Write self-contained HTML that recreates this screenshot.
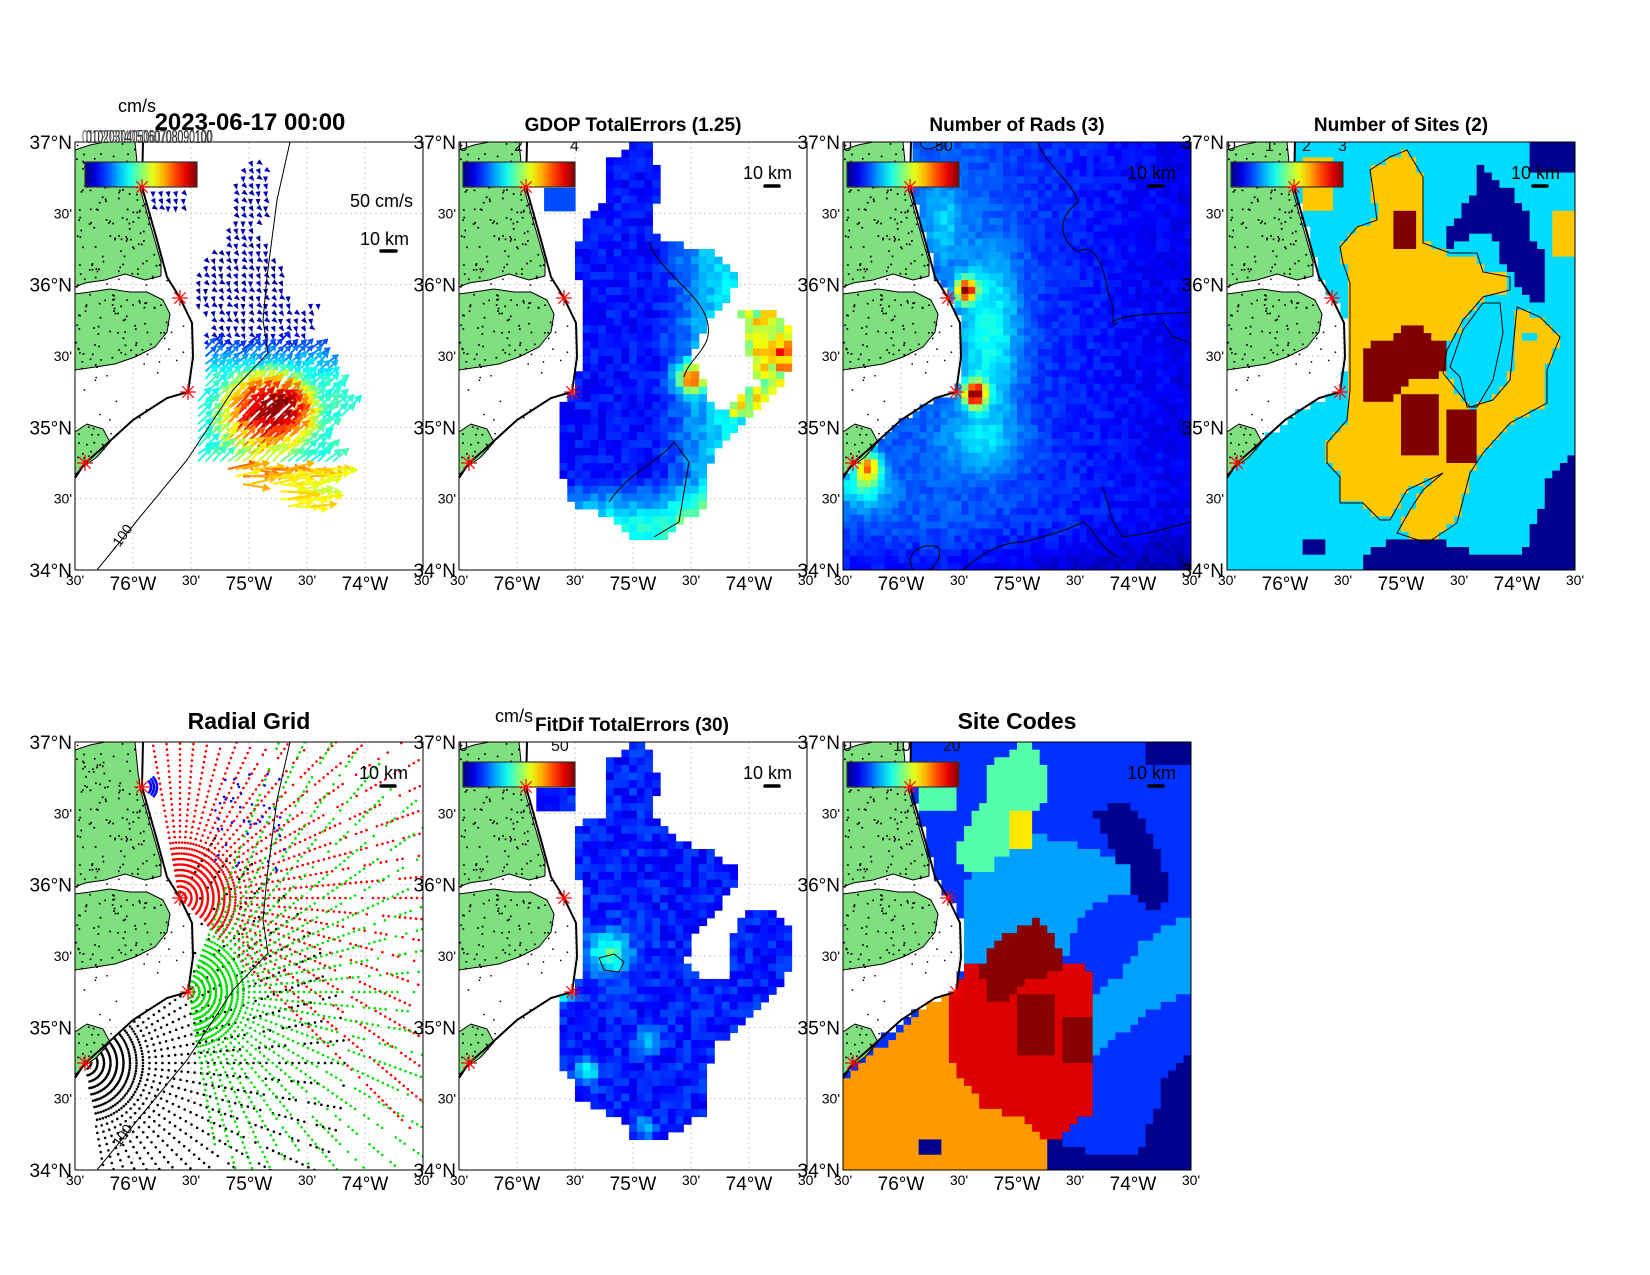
<!DOCTYPE html>
<html><head><meta charset="utf-8"><style>
html,body{margin:0;padding:0;background:#fff;}
#c{width:1650px;height:1275px;overflow:hidden;}
text{font-family:"Liberation Sans",Arial,sans-serif;}
</style></head><body><div id="c"></div>
<script>
const W=348,H=428;
function hash(i,j,k){let h=Math.sin(i*127.1+j*311.7+k*74.7)*43758.5453;return h-Math.floor(h);}
function cl(v){return Math.max(0,Math.min(1,v));}
function jet(t){t=cl(t);const f=v=>Math.round(255*cl(v));return `rgb(${f(1.5-Math.abs(4*t-3))},${f(1.5-Math.abs(4*t-2))},${f(1.5-Math.abs(4*t-1))})`;}
function g(x,y,cx,cy,r,r2){r2=r2||r;const d=((x-cx)/r)**2+((y-cy)/r2)**2;return Math.exp(-d);}
function pip(x,y,p){let c=false;for(let i=0,j=p.length-1;i<p.length;j=i++){const xi=p[i][0],yi=p[i][1],xj=p[j][0],yj=p[j][1];if(((yi>y)!=(yj>y))&&(x<(xj-xi)*(y-yi)/(yj-yi)+xi))c=!c;}return c;}
const C=[[68,0],[67,45],[82,98],[92,135],[105,156],[117,181],[118,215],[113,250],[92,256],[58,278],[25,308],[10,321],[0,336]];
function ocean(x,y){
 if(y<=250){for(let i=0;i<7;i++){const a=C[i],b=C[i+1];if(y>=a[1]&&y<=b[1]){const xc=a[0]+(b[0]-a[0])*(y-a[1])/(b[1]-a[1]);return x>xc+1;}}return true;}
 if(x>=113)return true;
 for(let i=7;i<12;i++){const a=C[i],b=C[i+1];if(x<=a[0]&&x>=b[0]){const yc=a[1]+(b[1]-a[1])*(x-a[0])/(b[0]-a[0]);return y>yc+1;}}
 return y>336;}
const LAND=[
[[0,8],[15,3],[30,0],[60,0],[63,30],[66,50],[76,85],[86,120],[86,134],[70,138],[50,132],[30,138],[10,141],[0,145]],
[[0,152],[15,150],[35,147],[55,150],[72,150],[88,158],[95,172],[92,190],[80,205],[60,215],[40,222],[20,225],[0,228]],
[[0,290],[12,282],[28,287],[35,300],[22,315],[8,325],[0,333]]];
const SITES=[[67,45],[105,156],[113,250],[10,321]];
function heat(nx,ny,fn){let s='';const cw=W/nx,ch=H/ny;for(let j=0;j<ny;j++)for(let i=0;i<nx;i++){const x=(i+.5)*cw,y=(j+.5)*ch;const c=fn(x,y,i,j);if(c)s+=`<rect x="${(i*cw).toFixed(2)}" y="${(j*ch).toFixed(2)}" width="${(cw+.6).toFixed(2)}" height="${(ch+.6).toFixed(2)}" fill="${c}"/>`;}return s;}
function poly(p){return p.map(q=>q.join(',')).join(' ');}
function grid(){let s='';for(let k=1;k<6;k++)s+=`<line x1="${k*58}" y1="0" x2="${k*58}" y2="${H}" stroke="#c8c8c8" stroke-width="0.9" stroke-dasharray="2,3"/>`;for(let k=1;k<6;k++){const y=(k*H/6).toFixed(1);s+=`<line x1="0" y1="${y}" x2="${W}" y2="${y}" stroke="#c8c8c8" stroke-width="0.9" stroke-dasharray="2,3"/>`;}return s;}
function land(){let s='';LAND.forEach(p=>s+=`<polygon points="${poly(p)}" fill="#80e080" stroke="#000" stroke-width="1"/>`);
 for(let i=0;i<1400;i++){const x=hash(i,1,3)*125,y=hash(i,2,5)*336;let inL=LAND.some(p=>pip(x,y,p));if(inL){if(hash(i,7,7)<0.4)s+=`<rect x="${x.toFixed(1)}" y="${y.toFixed(1)}" width="1.7" height="1.7" fill="#000"/>`;}else if(!ocean(x,y)&&hash(i,9,9)<0.12)s+=`<rect x="${x.toFixed(1)}" y="${y.toFixed(1)}" width="1.5" height="1.5" fill="#000"/>`;}
 s+=`<polyline points="${poly(C)}" fill="none" stroke="#000" stroke-width="2"/>`;return s;}
function iso(label){let s=`<polyline points="215,0 202,58 192,135 188,178 193,211 158,248 112,318 65,375 22,428" fill="none" stroke="#000" stroke-width="1"/>`;if(label){s+=`<text transform="translate(50,398) rotate(-55)" font-size="14" text-anchor="middle" fill="#000">-100</text>`;}return s;}
function stars(){let s='';SITES.forEach(([x,y])=>{for(let a=0;a<4;a++){const an=a*Math.PI/4;s+=`<line x1="${x-8*Math.cos(an)}" y1="${y-8*Math.sin(an)}" x2="${x+8*Math.cos(an)}" y2="${y+8*Math.sin(an)}" stroke="#f00" stroke-width="1.2"/>`;}});return s;}
let gid=0;
function cbar(x0,labels){gid++;let s='';const w=112,y0=20;const id='jg'+gid;s+=`<defs><linearGradient id="${id}" x1="0" x2="1">`;
 for(let k=0;k<=10;k++)s+=`<stop offset="${k/10}" stop-color="${jet(k/10)}"/>`;s+=`</linearGradient></defs>`;
 s+=`<rect x="${x0}" y="${y0}" width="${w}" height="25" fill="url(#${id})" stroke="#333" stroke-width="1.2"/>`;
 labels.forEach(([t,x])=>{s+=`<text x="${x}" y="9" font-size="16" fill="#111">${t}</text>`;});return s;}
function scalebar(y){return `<text x="284" y="${y}" font-size="18">10 km</text><line x1="306" y1="${y+7}" x2="320" y2="${y+7}" stroke="#000" stroke-width="3.5" stroke-linecap="round"/>`;}
function axes(ox,oy){let s='';const la=[["37°N",0],["30'",1],["36°N",2],["30'",3],["35°N",4],["30'",5],["34°N",6]];
 la.forEach(([t,k])=>{const y=oy+k*H/6;const big=t.length>3;s+=`<text x="${ox-3}" y="${(y+(big?7:5)).toFixed(1)}" font-size="${big?19:14}" text-anchor="end">${t}</text>`;});
 const lo=["30'","76°W","30'","75°W","30'","74°W","30'"];lo.forEach((t,k)=>{const x=ox+k*58;const big=t.length>3;s+=`<text x="${x}" y="${oy+H+(big?20:15)}" font-size="${big?19:14}" text-anchor="middle">${t}</text>`;});return s;}
let cid=0;
function panel(ox,oy,data,over){cid++;return `<clipPath id="cp${cid}"><rect x="0" y="0" width="${W}" height="${H}"/></clipPath><g transform="translate(${ox},${oy})"><g clip-path="url(#cp${cid})">${grid()}${data}${land()}${over||''}${stars()}</g><rect x="0" y="0" width="${W}" height="${H}" fill="none" stroke="#000" stroke-width="1"/></g>`+axes(ox,oy);}

/* P1 quiver */
const M1=[[170,15],[190,15],[195,70],[180,85],[200,115],[210,120],[215,165],[245,160],[230,200],[245,205],[255,230],[265,260],[280,270],[255,280],[245,305],[265,325],[250,340],[240,365],[210,370],[195,340],[165,345],[150,325],[120,320],[120,260],[130,240],[125,210],[135,175],[115,160],[125,125],[130,110],[145,105],[160,70],[160,40]];
function p1(){let s='';for(let y=12;y<372;y+=7.5)for(let x=78;x<285;x+=7.5){const inM=pip(x,y,M1)||(x>75&&x<112&&y>45&&y<70);if(!inM||!ocean(x,y))continue;
 const core=g(x,y,182,282,62,52);let base=y<185?0.04:y<240?0.04+(y-185)/55*0.36:0.42;let sp=Math.max(base,core);if(y>320)sp=0.55+0.25*core+0.12*hash(x,y,1);
 sp=cl(sp+0.06*(hash(x,y,2)-0.5));const col=jet(sp);let a;
 if(sp<0.15)a=(30+60*hash(x,y,3))*Math.PI/180;else if(y>320)a=(-15+25*hash(x,y,4))*Math.PI/180;else a=(-35-15*hash(x,y,5))*Math.PI/180;
 if(sp<0.15){const L=6;const ex=x+L*Math.cos(a),ey=y+L*Math.sin(a);const px=-Math.sin(a)*2.5,py=Math.cos(a)*2.5;
  s+=`<polygon points="${ex.toFixed(1)},${ey.toFixed(1)} ${(x+px).toFixed(1)},${(y+py).toFixed(1)} ${(x-px).toFixed(1)},${(y-py).toFixed(1)}" fill="${col}"/>`;continue;}
 const L=10+sp*26;const ex=x+L*Math.cos(a),ey=y+L*Math.sin(a);const h=Math.min(L*0.4,8),hw=h*0.55;
 const bx=ex-h*Math.cos(a),by=ey-h*Math.sin(a);const px=-Math.sin(a),py=Math.cos(a);
 s+=`<line x1="${x.toFixed(1)}" y1="${y.toFixed(1)}" x2="${bx.toFixed(1)}" y2="${by.toFixed(1)}" stroke="${col}" stroke-width="2"/>`;
 s+=`<polygon points="${ex.toFixed(1)},${ey.toFixed(1)} ${(bx+px*hw).toFixed(1)},${(by+py*hw).toFixed(1)} ${(bx-px*hw).toFixed(1)},${(by-py*hw).toFixed(1)}" fill="${col}"/>`;}
 return s;}
/* P2 */
const M2=[[174,1],[191,1],[201,31],[194,91],[218,101],[258,111],[281,135],[271,155],[248,178],[234,215],[241,231],[254,265],[288,281],[264,301],[251,321],[248,368],[221,381],[204,398],[168,395],[148,375],[114,361],[98,321],[104,261],[121,231],[121,141],[114,118],[128,78],[144,58],[144,21],[166,8]];
const M2b=[[281,165],[311,165],[334,188],[331,225],[321,248],[305,262],[285,280],[265,300],[260,280],[280,255],[300,240],[290,215],[285,190]];
function p2(){return heat(45,56,(x,y)=>{if(!ocean(x,y))return null;const a=pip(x,y,M2),b=pip(x,y,M2b);const top=(x>82&&x<116&&y>45&&y<70);if(!a&&!b&&!top)return null;
 let t;if(b&&!a)t=0.45+0.25*hash(x,y,1)+0.25*g(x,y,325,210,15);else{t=0.1+0.22*cl((x-195)/70)+0.25*cl((y-335)/45)+0.08*hash(x,y,2)+0.55*g(x,y,232,236,14);if(top)t=0.2;}
 return jet(t);});}
/* P3 */
function p3(){return heat(50,62,(x,y)=>{if(!ocean(x,y))return null;
 let t=0.18-0.1*cl((x-110)/230)+0.06*hash(x,y,3)+0.72*g(x,y,123,148,10,12)+0.75*g(x,y,132,252,11,13)+0.2*g(x,y,148,190,30,85)+0.12*g(x,y,100,80,20,40)+0.5*g(x,y,25,325,12,14)+0.2*g(x,y,20,345,25,20)+0.12*g(x,y,140,300,40,30)-0.07*cl((y-380)/40);
 return jet(t);});}
function p3over(){return `<path d="M78,0 C75,8 90,10 100,0 M195,0 C200,20 230,40 235,60 C210,80 220,100 235,110 C250,100 260,120 265,150 C275,170 265,190 275,180 M270,180 C280,170 340,172 348,170 M320,180 L330,195 L345,200 M260,345 L270,380 L280,395 L310,390 L348,380 M70,428 C60,410 80,400 95,405 C100,415 90,428 85,428 M120,428 C140,410 160,400 180,400 C200,395 220,390 240,380 C250,385 255,405 275,415" fill="none" stroke="#000" stroke-width="1"/>`;}
/* P4 */
const Y4=[[180,8],[196,35],[196,101],[223,111],[250,111],[256,130],[283,135],[283,148],[256,155],[236,178],[220,208],[216,231],[243,265],[266,258],[283,238],[290,165],[313,175],[333,195],[320,228],[320,261],[283,281],[256,311],[243,331],[230,381],[200,401],[170,391],[183,368],[196,348],[216,331],[180,348],[163,378],[153,378],[136,361],[113,361],[113,335],[100,321],[100,301],[120,278],[123,248],[123,221],[123,175],[123,141],[116,121],[113,105],[130,85],[150,78],[146,48],[143,28],[163,15]];
const H4=[[256,161],[273,161],[276,191],[266,238],[250,265],[240,265],[233,235],[223,225],[236,188]];
const R4=[[136,215],[143,201],[166,195],[190,178],[206,195],[220,201],[220,225],[203,238],[183,238],[173,255],[143,261],[136,251]];
const N4a=[[253,25],[283,48],[303,78],[306,101],[320,108],[320,161],[306,161],[290,141],[273,115],[263,88],[223,105],[223,88],[236,65],[253,48]];
const N4b=[[348,315],[348,428],[136,428],[140,415],[156,401],[206,395],[240,408],[276,415],[296,408],[316,361],[320,338],[336,321]];
const in_=(x,y,a,b,c,d)=>x>=a&&x<=c&&y>=b&&y<=d;
function p4(){return heat(46,56,(x,y)=>{if(!ocean(x,y))return null;let c='#00dcff';
 if(pip(x,y,N4a)||pip(x,y,N4b)||in_(x,y,303,0,348,28)||in_(x,y,76,401,96,415))c='#00008f';
 if(pip(x,y,Y4)||in_(x,y,76,15,106,68)||in_(x,y,326,70,348,112))c='#ffc800';
 if(pip(x,y,H4)||in_(x,y,293,188,313,201))c='#00dcff';
 if(pip(x,y,R4)||in_(x,y,177,255,213,316)||in_(x,y,220,271,251,323)||in_(x,y,168,70,190,108))c='#800000';
 return c;});}
function p4over(){return `<polygon points="${poly(Y4)}" fill="none" stroke="#000" stroke-width="1"/><polygon points="${poly(H4)}" fill="none" stroke="#000" stroke-width="1"/>`;}
/* P5 radial */
function p5(){let s='';const sets=[[SITES[3],-60,80,265,'#000',6.5],[SITES[1],-100,45,330,'#f00',5.5],[SITES[2],-70,80,300,'#00e000',5.5]];
 sets.forEach(([c,a0,a1,rm,col,dr])=>{for(let r=6;r<rm;r+=dr){const stepA=r<60?Math.max(3,90/r*1.2):5;for(let a=a0;a<=a1;a+=(r<60?stepA:5)){const an=a*Math.PI/180;const x=c[0]+r*Math.cos(an),y=c[1]+r*Math.sin(an);if(x<0||x>W||y<0||y>H||!ocean(x,y))continue;if(r>150&&hash(r,a,col.length)<0.25)continue;s+=`<circle cx="${x.toFixed(1)}" cy="${y.toFixed(1)}" r="1.3" fill="${col}"/>`;}}});
 for(let r=9;r<18;r+=3)for(let a=-40;a<=40;a+=6){const an=a*Math.PI/180;s+=`<circle cx="${(SITES[0][0]+r*Math.cos(an)).toFixed(1)}" cy="${(SITES[0][1]+r*Math.sin(an)).toFixed(1)}" r="1.3" fill="#00f"/>`;}
 for(let i=0;i<45;i++){const x=140+hash(i,3,1)*70,y=30+hash(i,4,1)*100;if(ocean(x,y))s+=`<circle cx="${x.toFixed(1)}" cy="${y.toFixed(1)}" r="1.3" fill="#00f"/>`;}
 return s;}
/* P6 */
const M6=[[174,1],[188,1],[201,38],[194,71],[221,101],[258,111],[281,131],[274,145],[254,171],[234,191],[228,218],[244,235],[271,235],[274,195],[288,165],[311,165],[334,185],[334,225],[324,238],[294,271],[281,285],[258,301],[248,335],[248,368],[228,385],[204,398],[174,398],[168,381],[154,375],[144,368],[114,358],[114,338],[98,321],[98,308],[104,271],[104,251],[121,235],[121,171],[121,141],[114,118],[114,101],[121,78],[151,75],[144,55],[144,21],[161,15]];
function p6(){return heat(45,56,(x,y)=>{if(!ocean(x,y))return null;const top=in_(x,y,74,45,114,68);if(!pip(x,y,M6)&&!top)return null;
 let t=0.1+0.1*hash(x,y,6)+0.3*g(x,y,150,212,22)+0.25*g(x,y,103,250,12)+0.22*g(x,y,128,330,12)+0.2*g(x,y,190,298,12)+0.15*g(x,y,185,385,10);return jet(t);});}
/* P7 */
const LB7=[[122,138],[154,118],[184,91],[224,101],[257,111],[290,125],[290,151],[260,158],[237,178],[227,201],[220,225],[124,225],[122,218]];
const LB7b=[[250,320],[250,255],[275,235],[300,200],[330,180],[348,170],[348,250],[320,262],[290,282],[265,302]];
const SG7=[[177,1],[190,1],[197,18],[205,28],[205,55],[197,68],[184,71],[190,85],[167,108],[154,118],[144,131],[124,131],[114,115],[114,101],[130,75],[144,58],[144,21],[160,15],[167,8]];
const OR7=[[0,338],[97,255],[107,255],[107,308],[114,335],[144,368],[174,375],[204,401],[204,428],[0,428]];
const RD7=[[107,255],[124,225],[245,225],[252,258],[252,368],[235,378],[220,395],[204,401],[174,375],[144,368],[114,335],[107,308]];
const DR7=[[152,201],[177,185],[197,178],[214,195],[220,225],[184,241],[167,258],[144,258],[137,225]];
const NV7=[[250,70],[280,60],[300,80],[320,120],[325,160],[310,175],[290,150],[270,110]];
function p7(){return heat(46,56,(x,y)=>{if(!ocean(x,y))return null;let c='#0030ff';
 if(pip(x,y,NV7)||pip(x,y,N4b)||in_(x,y,300,0,348,22))c='#00008f';
 if(pip(x,y,LB7)||pip(x,y,LB7b))c='#00a0ff';
 if(pip(x,y,SG7)||in_(x,y,77,41,114,68))c='#55ffaa';
 if(in_(x,y,167,70,190,108))c='#ffe800';
 if(pip(x,y,OR7))c='#ff9900';
 if(in_(x,y,75,401,100,415))c='#00008f';
 if(pip(x,y,RD7))c='#dd0000';
 if(pip(x,y,DR7)||in_(x,y,177,255,213,316)||in_(x,y,220,275,252,323))c='#880000';
 return c;});}

let s=`<svg width="1650" height="1275" viewBox="0 0 1650 1275">`;
const T1=142,T2=742,X=[75,459,843,1227];
s+=panel(X[0],T1,p1(),iso(true)+cbar(10,[])+`<text x="275" y="65" font-size="18">50 cm/s</text>`+`<text x="285" y="103" font-size="18">10 km</text><line x1="306" y1="109" x2="321" y2="109" stroke="#000" stroke-width="3.5" stroke-linecap="round"/>`);
s+=panel(X[1],T1,p2(),cbar(4,[["0",0],["2",55],["4",111]])+scalebar(37)+`<path d="M190,100 C200,130 240,150 248,178 S230,215 225,235 M150,360 C170,330 200,320 215,300 L230,320 L220,380 L195,395" fill="none" stroke="#000" stroke-width="1"/>`);
s+=panel(X[2],T1,p3(),p3over()+cbar(4,[["0",0],["50",92]])+scalebar(37));
s+=panel(X[3],T1,p4(),p4over()+cbar(4,[["0",0],["1",38],["2",75],["3",111]])+scalebar(37));
s+=panel(X[0],T2,p5(),iso(true)+scalebar(37));
s+=panel(X[1],T2,p6(),cbar(4,[["0",0],["50",92]])+scalebar(37)+`<path d="M140,216 L155,212 L165,220 L160,230 L145,228 Z" fill="none" stroke="#000" stroke-width="1"/>`);
s+=panel(X[2],T2,p7(),cbar(4,[["0",0],["10",50],["20",100]])+scalebar(37));
s+=`<text x="118" y="112" font-size="18">cm/s</text>`;
s+=`<text x="82" y="143" font-size="18" fill="#666" textLength="131" lengthAdjust="spacingAndGlyphs">0102030405060708090100</text><text x="86" y="143" font-size="18" fill="#333" textLength="126" lengthAdjust="spacingAndGlyphs">0102030405060708090100</text>`;
s+=`<text x="250" y="130" font-size="24" font-weight="bold" text-anchor="middle">2023-06-17 00:00</text>`;
s+=`<text x="633" y="131" font-size="19" font-weight="bold" text-anchor="middle">GDOP TotalErrors (1.25)</text>`;
s+=`<text x="1017" y="131" font-size="19" font-weight="bold" text-anchor="middle">Number of Rads (3)</text>`;
s+=`<text x="1401" y="131" font-size="19" font-weight="bold" text-anchor="middle">Number of Sites (2)</text>`;
s+=`<text x="249" y="729" font-size="23" font-weight="bold" text-anchor="middle">Radial Grid</text>`;
s+=`<text x="495" y="722" font-size="18">cm/s</text>`;
s+=`<text x="632" y="731" font-size="19" font-weight="bold" text-anchor="middle">FitDif TotalErrors (30)</text>`;
s+=`<text x="1017" y="729" font-size="23" font-weight="bold" text-anchor="middle">Site Codes</text>`;
s+=`</svg>`;
document.getElementById('c').innerHTML=s;
</script></body></html>
